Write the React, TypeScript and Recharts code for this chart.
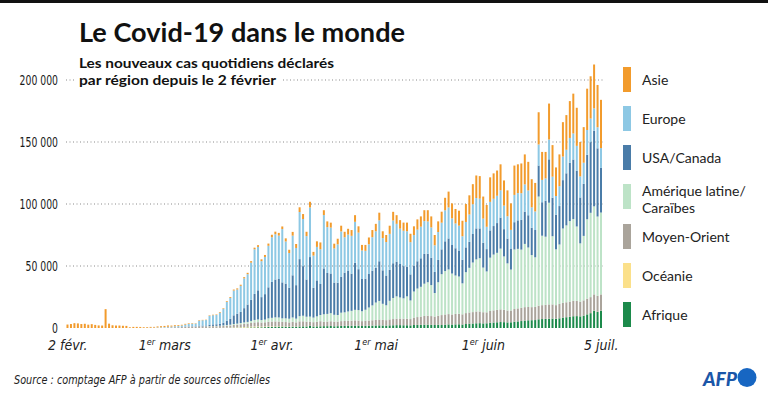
import React from "react";
import { BarChart, Bar, XAxis, YAxis, CartesianGrid } from "recharts";

// Categories: one per day from 2 Feb 2020 to 5 Jul 2020
const START_DATE = Date.UTC(2020, 1, 2);
const DAY_COUNT = 155;
const dates: string[] = [];
for (let i = 0; i < DAY_COUNT; i++) {
  dates.push(new Date(START_DATE + i * 86400000).toISOString().slice(0, 10));
}

// Daily new cases per region
const asie = [
  2800, 3200, 3900, 3700, 3200, 3400, 2700, 3100, 2500, 2100,
  2000, 15200, 3500, 2200, 2000, 2000, 1800, 1700, 600, 900,
  900, 800, 600, 600, 700, 600, 800, 900, 900, 1000,
  800, 800, 700, 600, 600, 500, 400, 300, 400, 300,
  300, 400, 400, 400, 500, 500, 600, 700, 800, 900,
  900, 1000, 1100, 1200, 1300, 1400, 1500, 1600, 1800, 2000,
  2100, 2200, 2100, 2500, 2600, 3000, 3200, 3800, 4000, 3500,
  4600, 3000, 4500, 5500, 3900, 4600, 4000, 3850, 4550, 4650,
  4460, 4660, 4660, 5360, 5070, 4470, 4770, 5470, 5770, 5980,
  6180, 5480, 5680, 6580, 6980, 6980, 6880, 6580, 6980, 6780,
  7080, 8280, 8280, 8780, 9080, 8880, 8280, 8580, 8880, 10080,
  12780, 12080, 11680, 12080, 12480, 14480, 15480, 16180, 18180, 18180,
  17780, 17580, 19780, 20480, 20380, 20980, 20280, 20880, 21380, 23680,
  23180, 23980, 24180, 23080, 22680, 22980, 25980, 22580, 21370, 28970,
  25470, 23060, 25660, 27750, 27950, 29740, 32140, 30730, 27730, 28720,
  33320, 34100, 35400, 34100, 38900,
];

const europe = [
  0, 0, 0, 0, 0, 0, 0, 0, 0, 0,
  0, 0, 0, 0, 0, 0, 0, 0, 0, 0,
  0, 20, 80, 150, 100, 200, 300, 350, 400, 500,
  600, 800, 900, 1200, 1600, 1900, 2100, 2200, 4000, 4300,
  4400, 7200, 7400, 7500, 9000, 11200, 15200, 16800, 20000, 19500,
  21000, 24000, 24500, 30000, 36000, 35000, 29000, 30000, 33500, 36000,
  36500, 35000, 43000, 34000, 28000, 32000, 30000, 38000, 38000, 35000,
  40000, 26000, 27000, 28000, 43000, 37000, 37000, 27500, 31000, 36500,
  28500, 29000, 30500, 33000, 29500, 23000, 22500, 24000, 27000, 29500,
  33000, 26000, 27000, 29000, 34500, 30500, 28500, 28500, 28500, 26000,
  24500, 25500, 25500, 26500, 26000, 24500, 21500, 22500, 21500, 25000,
  25000, 21500, 20000, 20000, 19000, 20500, 22000, 24000, 24500, 24000,
  19500, 18000, 23000, 22000, 22000, 22000, 19000, 18000, 15000, 22000,
  22000, 21500, 22000, 20000, 16500, 15000, 17000, 18000, 18000, 16000,
  17000, 15000, 16000, 19000, 19000, 20000, 21000, 20000, 17000, 17000,
  20000, 19000, 18000, 17000, 16000,
];

const usaCanada = [
  0, 0, 0, 0, 0, 0, 0, 0, 0, 0,
  0, 0, 0, 0, 0, 0, 0, 0, 0, 0,
  0, 0, 0, 0, 0, 0, 10, 10, 20, 30,
  50, 50, 80, 100, 150, 200, 200, 300, 500, 700,
  600, 1000, 1200, 1300, 1500, 2100, 3500, 4800, 7000, 8000,
  9000, 11500, 14000, 17000, 21000, 23500, 18500, 20500, 25000, 29000,
  30500, 31000, 29000, 28000, 25000, 34000, 27000, 46000, 40000, 30000,
  48000, 24000, 29000, 25000, 37000, 33000, 32000, 26000, 26000, 29000,
  32000, 33000, 30000, 38000, 33000, 26000, 25000, 27000, 28000, 28000,
  32000, 27000, 24000, 25000, 28000, 28000, 27000, 26000, 24000, 21000,
  21000, 22000, 23000, 24000, 23000, 22000, 17000, 18000, 20000, 24000,
  25000, 23000, 22000, 21000, 19000, 20000, 21000, 23000, 25000, 24000,
  20000, 18000, 22000, 23000, 24000, 25000, 22000, 20000, 17000, 22000,
  23000, 24000, 26000, 26000, 22000, 22000, 25000, 27000, 29000, 35000,
  31000, 28000, 31000, 39000, 42000, 47000, 48000, 45000, 37000, 42000,
  52000, 57000, 61000, 55000, 36000,
];

const ameriqueLatine = [
  0, 0, 0, 0, 0, 0, 0, 0, 0, 0,
  0, 0, 0, 0, 0, 0, 0, 0, 0, 0,
  0, 0, 0, 0, 0, 0, 0, 0, 0, 0,
  0, 0, 0, 0, 10, 20, 20, 30, 50, 100,
  150, 200, 200, 300, 300, 400, 500, 600, 800, 900,
  1000, 1200, 1400, 1600, 2000, 2200, 2000, 2200, 2800, 3000,
  3300, 3300, 2800, 3000, 3000, 3600, 3000, 4200, 4500, 4000,
  4000, 3700, 4400, 5000, 6000, 6200, 6500, 5500, 5300, 6800,
  7000, 7500, 8000, 8500, 8500, 8000, 9000, 10500, 12000, 14000,
  15000, 13000, 12000, 15000, 17000, 18000, 17000, 16500, 18000, 15000,
  21000, 23000, 24000, 26000, 27000, 25000, 19000, 27000, 33000, 35000,
  36000, 33000, 31000, 30000, 25000, 33000, 36000, 40000, 42000, 43000,
  36000, 33000, 43000, 45000, 46000, 49000, 43000, 38000, 33000, 48000,
  48000, 47000, 51000, 48000, 42000, 40000, 88000, 56000, 55000, 82000,
  55000, 45000, 48000, 60000, 62000, 65000, 66000, 60000, 47000, 52000,
  64000, 68000, 71000, 64000, 66000,
];

const moyenOrient = [
  0, 0, 0, 0, 0, 0, 0, 0, 0, 0,
  0, 0, 0, 0, 0, 0, 0, 0, 0, 0,
  20, 30, 30, 50, 100, 100, 150, 200, 350, 500,
  500, 600, 600, 700, 1000, 1100, 1200, 1000, 1300, 1100,
  1200, 1300, 1400, 1300, 1400, 1500, 1600, 1700, 1900, 2100,
  2300, 2500, 2600, 3000, 3300, 3500, 3300, 3400, 3800, 3900,
  4000, 3800, 3500, 3600, 3400, 3600, 3400, 4000, 4000, 3800,
  3500, 3400, 3600, 4000, 3500, 3600, 3800, 3700, 3600, 3800,
  3900, 4000, 4000, 4200, 4100, 3900, 4000, 4200, 4300, 4500,
  4700, 4500, 4400, 4800, 5000, 5200, 5300, 5200, 5300, 5100,
  6000, 6300, 6600, 7000, 7200, 7000, 6800, 7300, 8000, 8200,
  8300, 8100, 8400, 8500, 8200, 8800, 9000, 9200, 9500, 9400,
  9000, 8800, 9500, 9800, 10000, 10200, 10000, 9600, 9500, 10300,
  10500, 10600, 10800, 10700, 10500, 10600, 11000, 11200, 11300, 11500,
  11400, 11000, 11500, 11800, 12000, 12200, 12300, 12200, 11800, 12200,
  12600, 12800, 13000, 12800, 13000,
];

const oceanie = [
  0, 0, 0, 0, 0, 0, 0, 0, 0, 0,
  0, 0, 0, 0, 0, 0, 0, 0, 0, 0,
  0, 0, 0, 0, 0, 0, 0, 0, 0, 0,
  0, 0, 0, 0, 0, 0, 0, 0, 20, 30,
  30, 50, 50, 50, 100, 100, 150, 200, 300, 350,
  400, 500, 500, 600, 700, 600, 500, 500, 400, 400,
  300, 300, 300, 200, 200, 200, 150, 150, 100, 100,
  100, 100, 100, 100, 80, 70, 60, 50, 50, 50,
  40, 40, 40, 40, 30, 30, 30, 30, 30, 20,
  20, 20, 20, 20, 20, 20, 20, 20, 20, 20,
  20, 20, 20, 20, 20, 20, 20, 20, 20, 20,
  20, 20, 20, 20, 20, 20, 20, 20, 20, 20,
  20, 20, 20, 20, 20, 20, 20, 20, 20, 20,
  20, 20, 20, 20, 20, 20, 20, 20, 30, 30,
  30, 40, 40, 50, 50, 60, 60, 70, 70, 80,
  80, 100, 100, 100, 100,
];

const afrique = [
  0, 0, 0, 0, 0, 0, 0, 0, 0, 0,
  0, 0, 0, 0, 0, 0, 0, 0, 0, 0,
  0, 0, 0, 0, 0, 0, 0, 0, 0, 0,
  0, 0, 0, 0, 0, 0, 0, 0, 20, 20,
  20, 30, 50, 50, 50, 100, 100, 150, 200, 200,
  300, 300, 400, 500, 500, 600, 600, 700, 800, 900,
  1000, 1100, 1200, 1000, 900, 1100, 1000, 1200, 1300, 1200,
  1600, 1200, 1300, 1400, 1500, 1500, 1600, 1400, 1500, 1700,
  1700, 1800, 1800, 1900, 1800, 1600, 1700, 1800, 1900, 2000,
  2100, 2000, 1900, 2100, 2200, 2300, 2300, 2200, 2200, 2100,
  2400, 2500, 2600, 2700, 2700, 2600, 2400, 2600, 2400, 2700,
  2900, 2800, 2900, 3000, 2800, 3200, 3500, 3600, 3800, 3900,
  3700, 3800, 4200, 4400, 4600, 4800, 4700, 4500, 4600, 5000,
  5300, 5600, 6000, 6200, 6300, 6400, 7000, 7200, 7300, 7500,
  7600, 7400, 7800, 8400, 8700, 9000, 9500, 9600, 9400, 10000,
  11000, 12000, 14000, 13000, 14000,
];

// Series (bottom to top of the stack)
const seriesKeys = ["afrique", "oceanie", "moyenOrient", "ameriqueLatine", "usaCanada", "europe", "asie"];
const seriesColors = ["#1c8a4b", "#fbe08a", "#aaa49b", "#bde3c7", "#4a7ca8", "#8dc8e4", "#f29b2c"];
const seriesLegend = [["Afrique"], ["Océanie"], ["Moyen-Orient"], ["Amérique latine/", "Caraïbes"], ["USA/Canada"], ["Europe"], ["Asie"]];

// Axis ticks
const yTicks = [0, 50000, 100000, 150000, 200000];
const gridValues = [50000, 100000, 150000, 200000];
const xTickDates = ["2020-02-02", "2020-03-01", "2020-04-01", "2020-05-01", "2020-06-01", "2020-07-05"];
const xTickLabels = [["2 févr.", "", ""], ["1", "er", " mars"], ["1", "er", " avr."], ["1", "er", " mai"], ["1", "er", " juin"], ["5 juil.", "", ""]];

const data = dates.map((date, i) => ({
  date,
  afrique: afrique[i],
  oceanie: oceanie[i],
  moyenOrient: moyenOrient[i],
  ameriqueLatine: ameriqueLatine[i],
  usaCanada: usaCanada[i],
  europe: europe[i],
  asie: asie[i],
}));

const NARROW = "'Liberation Sans Narrow', 'DejaVu Sans Condensed', 'Roboto', sans-serif";
const MAIN = "Lato, 'Noto Sans', sans-serif";

const formatY = (v: number) => (v === 0 ? "0" : `${v / 1000} 000`);

const XTick = (props: any) => {
  const { x, payload } = props;
  const idx = xTickDates.indexOf(payload.value);
  if (idx < 0) return null;
  const [a, sup, b] = xTickLabels[idx];
  return (
    <text x={x} y={350} textAnchor="middle" fontStyle="italic" fontSize={14} fontFamily={NARROW} fill="#222">
      {a}
      {sup ? <tspan dy={-5} fontSize={9}>{sup}</tspan> : null}
      {sup ? <tspan dy={5}>{b}</tspan> : null}
    </text>
  );
};

const YTick = (props: any) => {
  const { y, payload } = props;
  const s = formatY(payload.value);
  const digits = s.replace(/\s/g, "").length;
  const spaces = s.length - digits;
  return (
    <text
      x={58}
      y={y}
      dy={5}
      textAnchor="end"
      fontSize={14}
      fontFamily={NARROW}
      fill="#1a1a1a"
      textLength={digits * 5.9 + spaces * 3}
      lengthAdjust="spacingAndGlyphs"
    >
      {s}
    </text>
  );
};

const legendTops = [67, 106, 145, 184, 224, 263, 302];

export default function App() {
  const legendItems = [...seriesKeys.keys()].reverse();
  return (
    <div style={{ position: "absolute", left: 0, top: 0, width: 768, height: 393, background: "#fff", fontFamily: MAIN }}>
      <BarChart
        width={768}
        height={393}
        data={data}
        margin={{ top: 18, right: 165, bottom: 0, left: 0 }}
        barCategoryGap="14%"
      >
        <CartesianGrid vertical={false} horizontalValues={gridValues} stroke="#8a8a8a" strokeDasharray="1 2.5" />
        <XAxis
          dataKey="date"
          ticks={xTickDates}
          interval={0}
          tickLine={false}
          axisLine={false}
          height={65}
          tick={<XTick />}
        />
        <YAxis
          type="number"
          domain={[0, 250000]}
          ticks={yTicks}
          width={66}
          tickLine={false}
          axisLine={false}
          tick={<YTick />}
        />
        {seriesKeys.map((k, i) => (
          <Bar key={k} dataKey={k} stackId="s" fill={seriesColors[i]} isAnimationActive={false} />
        ))}
      </BarChart>
      <svg width={768} height={393} style={{ position: "absolute", left: 0, top: 0, pointerEvents: "none" }}>
        <rect x={0} y={0} width={768} height={3} fill="#111" />
        <text x={79} y={42} fontSize={26} fontWeight={700} fontFamily={MAIN} fill="#111" textLength={326} lengthAdjust="spacingAndGlyphs">
          Le Covid-19 dans le monde
        </text>
        <text x={79} y={68} fontSize={14} fontWeight={700} fontFamily={MAIN} fill="#111" textLength={255} lengthAdjust="spacingAndGlyphs">
          Les nouveaux cas quotidiens déclarés
        </text>
        <rect x={75} y={76} width={206} height={8} fill="#fff" />
        <text x={79} y={85} fontSize={14} fontWeight={700} fontFamily={MAIN} fill="#111" textLength={197} lengthAdjust="spacingAndGlyphs">
          par région depuis le 2 février
        </text>
        {legendItems.map((si, row) => {
          const top = legendTops[row];
          const lines = seriesLegend[si];
          return (
            <g key={seriesKeys[si]}>
              <rect x={623} y={top} width={8} height={25} fill={seriesColors[si]} />
              {lines.length === 1 ? (
                <text x={642} y={top + 18} fontSize={14} fontFamily={MAIN} fill="#222">{lines[0]}</text>
              ) : (
                <>
                  <text x={642} y={top + 12} fontSize={14} fontFamily={MAIN} fill="#222">{lines[0]}</text>
                  <text x={642} y={top + 29} fontSize={14} fontFamily={MAIN} fill="#222">{lines[1]}</text>
                </>
              )}
            </g>
          );
        })}
        <text x={14} y={384} fontSize={13} fontStyle="italic" fontFamily={NARROW} fill="#222" textLength={256} lengthAdjust="spacingAndGlyphs">
          Source : comptage AFP à partir de sources officielles
        </text>
        <text x={703} y={386} fontSize={19} fontWeight={900} fontStyle="italic" fontFamily={MAIN} fill="#1b56a8" textLength={34} lengthAdjust="spacingAndGlyphs">
          AFP
        </text>
        <circle cx={747} cy={377.5} r={9.5} fill="#1766c2" />
      </svg>
    </div>
  );
}
